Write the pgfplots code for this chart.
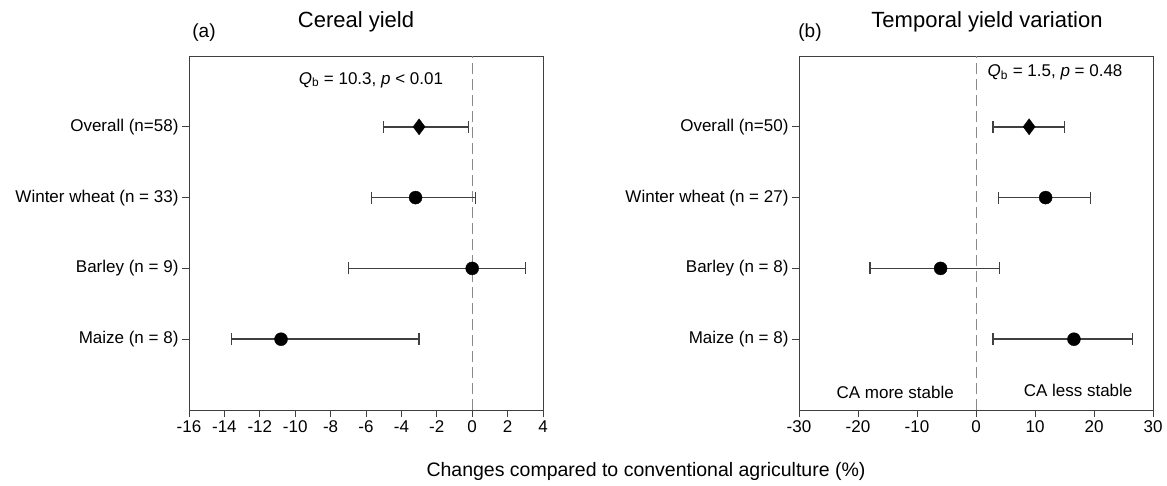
\documentclass[border=0pt]{standalone}
\usepackage{fontspec}
\setmainfont{Liberation Sans}
\usepackage{pgfplots}
\pgfplotsset{compat=1.18}

\definecolor{framegray}{HTML}{404040}
\definecolor{barsgray}{HTML}{404040}
\definecolor{dashgray}{HTML}{8A8A8A}

\newcommand{\lab}{\fontsize{17}{20}\selectfont}

\pgfplotsset{
  forest/.style={
    scale only axis, width=354pt, height=354pt,
    ymin=0, ymax=5, ytick={1,2,3,4},
    tick align=outside, xtick pos=bottom, ytick pos=left,
    major tick length=7pt,
    axis line style={framegray, line width=0.9pt},
    tick style={framegray, line width=0.9pt},
    tick label style={font=\lab},
    clip=false,
  },
  ebar/.style={
    only marks, black,
    error bars/x dir=both, error bars/x explicit,
    error bars/error mark=|,
    error bars/error bar style={barsgray, line width=1.5pt},
    error bars/error mark options={barsgray, line width=1.5pt, mark size=6pt},
  },
}

\begin{document}
\begin{tikzpicture}[x=1pt,y=1pt]
\path (0,0) rectangle (1167,-485);

% (a) cereal yield
\begin{axis}[forest, at={(189pt,-410pt)}, anchor=south west,
  xmin=-16, xmax=4, xtick={-16,-14,...,4},
  xticklabels={-16,-14,-12,-10,-8,-6,-4,-2,0,2,4},
  yticklabels={Maize (n = 8),Barley (n = 9),Winter wheat (n = 33),Overall (n=58)}]
  \addplot[dashgray, line width=0.9pt, dash pattern=on 11pt off 5pt] coordinates {(0,0) (0,5)};
  \addplot+[ebar, mark=diamond*, mark size=8pt, mark options={fill=black, draw=black}]
    coordinates {(-3.0,4) += (2.8,0) -= (2.0,0)};
  \addplot+[ebar, mark=*, mark size=6.5pt, mark options={fill=black, draw=black}]
    coordinates {
      (-3.2,3) += (3.4,0) -= (2.5,0)
      (0.0,2) += (3.0,0) -= (7.0,0)
      (-10.8,1) += (7.8,0) -= (2.8,0)
    };
  \node[font=\lab] at (axis cs:-5.72,4.66) {\textit{Q}\textsubscript{b} = 10.3, \textit{p} < 0.01};
\end{axis}

% (b) temporal yield variation
\begin{axis}[forest, at={(799pt,-410pt)}, anchor=south west,
  xmin=-30, xmax=30, xtick={-30,-20,...,30},
  xticklabels={-30,-20,-10,0,10,20,30},
  yticklabels={Maize (n = 8),Barley (n = 8),Winter wheat (n = 27),Overall (n=50)}]
  \addplot[dashgray, line width=0.9pt, dash pattern=on 11pt off 5pt] coordinates {(0,0) (0,5)};
  \addplot+[ebar, mark=diamond*, mark size=8pt, mark options={fill=black, draw=black}]
    coordinates {(9.0,4) += (6.0,0) -= (6.1,0)};
  \addplot+[ebar, mark=*, mark size=6.5pt, mark options={fill=black, draw=black}]
    coordinates {
      (11.8,3) += (7.6,0) -= (8.0,0)
      (-6.0,2) += (10.0,0) -= (12.0,0)
      (16.6,1) += (9.9,0) -= (13.7,0)
    };
  \node[font=\lab] at (axis cs:13.4,4.77) {\textit{Q}\textsubscript{b} = 1.5, \textit{p} = 0.48};
  \node[font=\lab] at (axis cs:-13.7,0.25) {CA more stable};
  \node[font=\lab] at (axis cs:17.3,0.27) {CA less stable};
\end{axis}

\node[font=\fontsize{22}{26}\selectfont] at (356,-22) {Cereal yield};
\node[font=\fontsize{22}{26}\selectfont] at (987,-22) {Temporal yield variation};
\node[font=\fontsize{19}{22}\selectfont] at (204,-33) {(a)};
\node[font=\fontsize{19}{22}\selectfont] at (810,-33) {(b)};
\node[font=\fontsize{19.5}{23}\selectfont] at (646,-471) {Changes compared to conventional agriculture (\%)};
\end{tikzpicture}
\end{document}
